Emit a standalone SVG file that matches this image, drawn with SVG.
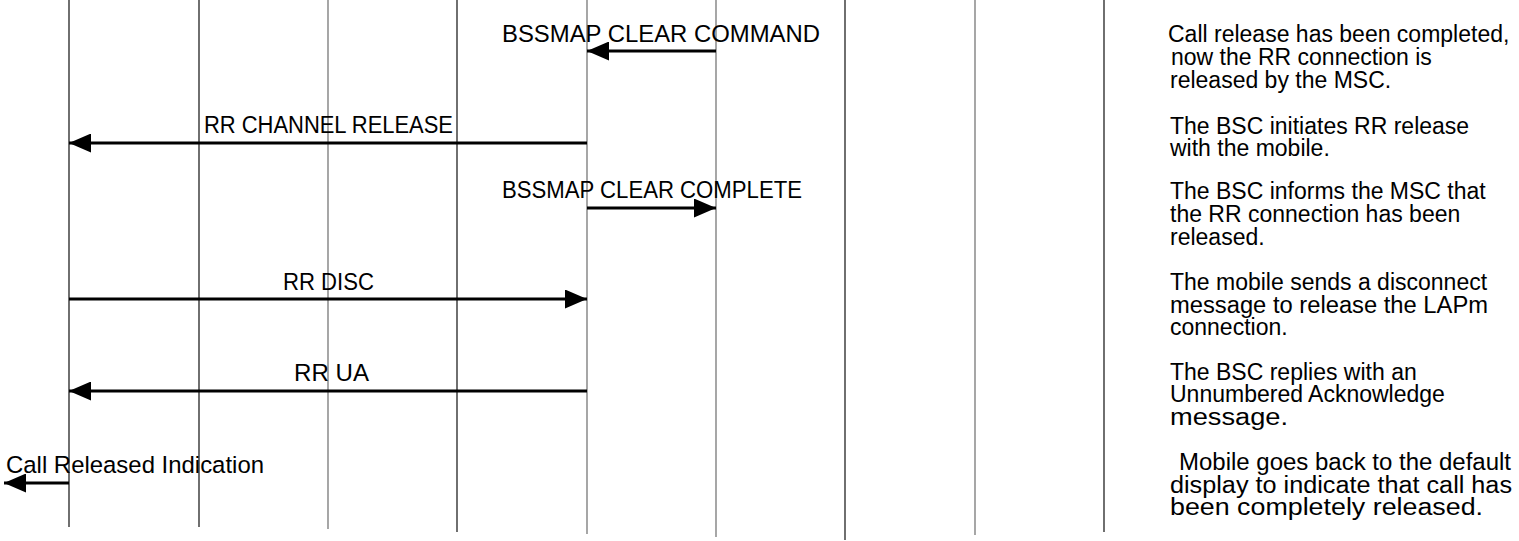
<svg xmlns="http://www.w3.org/2000/svg" width="1519" height="541" viewBox="0 0 1519 541">
<style>
.ll{stroke-width:1.3;fill:none}
.k{stroke:#222}
.g{stroke:#777}
.msg{stroke:#000;stroke-width:2.8;fill:none;marker-end:url(#ah)}
.lbl{font-family:"Liberation Sans",Arial,sans-serif;font-size:24.5px;fill:#000}
.note{font-family:"Liberation Sans",Arial,sans-serif;font-size:23px;fill:#000}
</style>
<defs>
<marker id="ah" markerUnits="userSpaceOnUse" markerWidth="22" markerHeight="19" viewBox="0 0 22 19" refX="22" refY="9.5" orient="auto">
<path d="M0,0 L22,9.5 L0,19 z" fill="#000"/>
</marker>
</defs>
<rect width="1519" height="541" fill="#fff"/>
<g id="lifelines">
<g id="ll1"><line class="ll k" x1="69" y1="0" x2="69" y2="527"/></g>
<g id="ll2"><line class="ll k" x1="199" y1="0" x2="199" y2="527"/></g>
<g id="ll3"><line class="ll g" x1="328" y1="0" x2="328" y2="529"/></g>
<g id="ll4"><line class="ll k" x1="457" y1="0" x2="457" y2="532"/></g>
<g id="ll5"><line class="ll g" x1="587" y1="0" x2="587" y2="534"/></g>
<g id="ll6"><line class="ll g" x1="716" y1="0" x2="716" y2="537"/></g>
<g id="ll7"><line class="ll k" x1="845" y1="0" x2="845" y2="540"/></g>
<g id="ll8"><line class="ll g" x1="975" y1="0" x2="975" y2="535"/></g>
<g id="ll9"><line class="ll k" x1="1104" y1="0" x2="1104" y2="532"/></g>
</g>
<g id="connectors">
<line class="msg" x1="716" y1="51" x2="587" y2="51"/>
<line class="msg" x1="587" y1="143" x2="69" y2="143"/>
<line class="msg" x1="587" y1="208" x2="716" y2="208"/>
<line class="msg" x1="69" y1="299" x2="587" y2="299"/>
<line class="msg" x1="587" y1="391" x2="69" y2="391"/>
<line class="msg" x1="69" y1="483" x2="4" y2="483"/>
</g>
<g id="labels">
<text class="lbl" x="502" y="42" textLength="318" lengthAdjust="spacingAndGlyphs">BSSMAP  CLEAR COMMAND</text>
<text class="lbl" x="204" y="133" textLength="249" lengthAdjust="spacingAndGlyphs">RR CHANNEL RELEASE</text>
<text class="lbl" x="502" y="198" textLength="300" lengthAdjust="spacingAndGlyphs">BSSMAP  CLEAR COMPLETE</text>
<text class="lbl" x="283" y="290" textLength="91" lengthAdjust="spacingAndGlyphs">RR DISC</text>
<text class="lbl" x="294" y="381" textLength="75" lengthAdjust="spacingAndGlyphs">RR UA</text>
<text class="lbl" x="6" y="473" textLength="258" lengthAdjust="spacingAndGlyphs">Call Released Indication</text>
</g>
<g id="notes">
<g id="note1">
<text class="note" x="1168" y="42">Call release has been completed,</text>
<text class="note" x="1171" y="65">now the RR connection is</text>
<text class="note" x="1170" y="88">released by the MSC.</text>
</g>
<g id="note2">
<text class="note" x="1170" y="134">The BSC initiates RR release</text>
<text class="note" x="1170" y="156">with the mobile.</text>
</g>
<g id="note3">
<text class="note" x="1170" y="199">The BSC informs the MSC that</text>
<text class="note" x="1170" y="222">the RR connection has been</text>
<text class="note" x="1170" y="245">released.</text>
</g>
<g id="note4">
<text class="note" x="1170" y="290">The mobile sends a disconnect</text>
<text class="note" x="1170" y="313" textLength="318" lengthAdjust="spacingAndGlyphs">message to release the LAPm</text>
<text class="note" x="1170" y="335">connection.</text>
</g>
<g id="note5">
<text class="note" x="1170" y="380">The BSC replies with an</text>
<text class="note" x="1170" y="402">Unnumbered Acknowledge</text>
<text class="note" x="1170" y="425" textLength="118" lengthAdjust="spacingAndGlyphs">message.</text>
</g>
<g id="note6">
<text class="note" x="1179" y="470" textLength="332" lengthAdjust="spacingAndGlyphs">Mobile goes back to the default</text>
<text class="note" x="1170" y="493" textLength="342" lengthAdjust="spacingAndGlyphs">display to indicate that call has</text>
<text class="note" x="1170" y="515" textLength="313" lengthAdjust="spacingAndGlyphs">been completely released.</text>
</g>
</g>
</svg>
